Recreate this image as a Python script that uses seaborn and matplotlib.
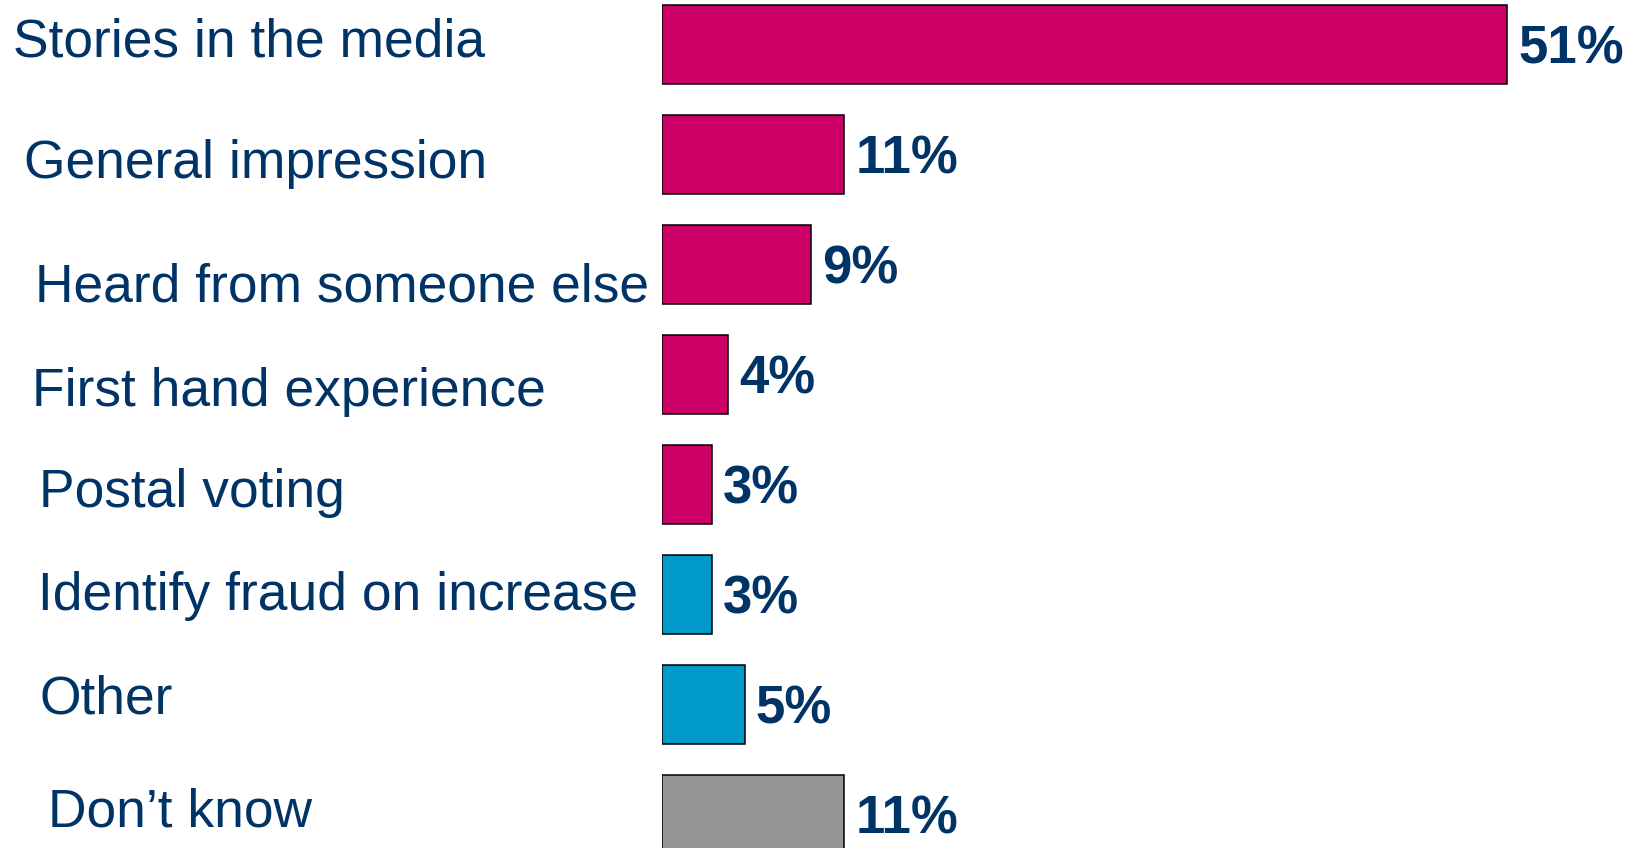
import matplotlib
matplotlib.use("Agg")
import matplotlib.pyplot as plt
import matplotlib.transforms as mtransforms
import seaborn as sns
import pandas as pd

# ---- data ----
categories = ["Stories in the media", "General impression", "Heard from someone else",
              "First hand experience", "Postal voting", "Identify fraud on increase",
              "Other", "Don\u2019t know"]
values = [51, 11, 9, 4, 3, 3, 5, 11]
value_labels = ["51%", "11%", "9%", "4%", "3%", "3%", "5%", "11%"]
groups = ["a", "a", "a", "a", "a", "b", "b", "c"]

# ---- style ----
group_colors = {"a": "#CC0066", "b": "#0099CC", "c": "#969696"}
text_color = "#003366"
W, H = 1629, 848
# label left x (px) and baseline offset below bar centre (px)
label_x = [13, 24, 35, 32, 39, 38, 40, 48]
label_base = [12.2, 23.5, 36.5, 31.5, 22.2, 15.5, 8.5, 12.2]

sns.set_theme(style="white")
plt.rcParams["font.family"] = ["Liberation Sans", "DejaVu Sans"]

fig = plt.figure(figsize=(W / 100, H / 100), dpi=100)
left_px = 662
px_per_unit = 16.57
ax = fig.add_axes([left_px / W, 0, 1 - left_px / W, 1])

df = pd.DataFrame({"cat": categories, "val": values, "grp": groups})
palette = [group_colors[g] for g in groups]
sns.barplot(data=df, x="val", y="cat", hue="cat", palette=palette, orient="h",
            width=0.72, edgecolor="black", linewidth=1.1, saturation=1,
            legend=False, ax=ax)

ax.set_xlim(0, (W - left_px) / px_per_unit)
bar_step = 110.0
first_c = 44.5
ax.set_ylim((H - first_c) / bar_step, -first_c / bar_step)
ax.set_axis_off()

blend = mtransforms.blended_transform_factory(fig.transFigure, ax.transData)
for i, cat in enumerate(categories):
    tr = mtransforms.offset_copy(blend, fig=fig, x=0, y=-label_base[i], units="dots")
    ax.text(label_x[i] / W, i, cat, transform=tr, fontsize=38.4, color=text_color,
            ha="left", va="baseline", clip_on=False)

for i, (v, lab) in enumerate(zip(values, value_labels)):
    tr = mtransforms.offset_copy(ax.transData, fig=fig, x=11, y=-18.5, units="dots")
    ax.text(v, i, lab, transform=tr, fontsize=38, fontweight="bold", color=text_color,
            ha="left", va="baseline", clip_on=False)

fig.savefig("out.png", dpi=100, facecolor="white")
